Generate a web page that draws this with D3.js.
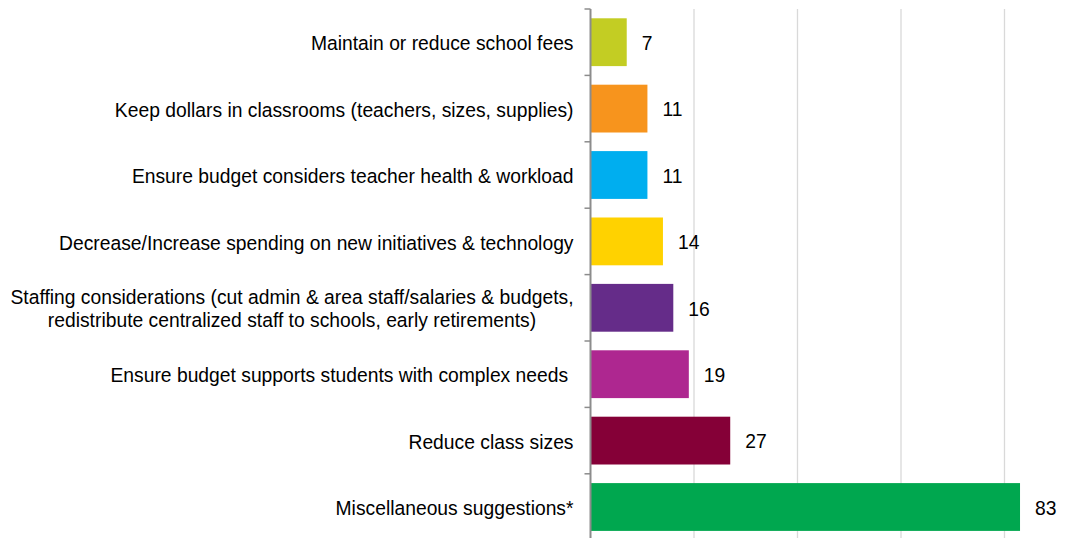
<!DOCTYPE html>
<html>
<head>
<meta charset="utf-8">
<script src="https://cdn.jsdelivr.net/npm/d3@7"></script>
<style>
  body { margin: 0; background: #fff; }
  svg { display: block; font-family: "Liberation Sans", Arial, sans-serif; }
</style>
</head>
<body>
<svg></svg>
<script>
const width = 1074;
const height = 538;

// data, top to bottom
const categories = [
    "Maintain or reduce school fees",
    "Keep dollars in classrooms (teachers, sizes, supplies)",
    "Ensure budget considers teacher health & workload",
    "Decrease/Increase spending on new initiatives & technology",
    "Staffing considerations (cut admin & area staff/salaries & budgets,|redistribute centralized staff to schools, early retirements)",
    "Ensure budget supports students with complex needs ",
    "Reduce class sizes",
    "Miscellaneous suggestions*"
];
const values = [7, 11, 11, 14, 16, 19, 27, 83];
const colors = ["#c3cd23", "#f7941d", "#00aeef", "#ffd200", "#652c89", "#ae2790", "#850037", "#00a74f"];
const gridTicks = [20, 40, 60, 80];

const x0 = 590.5;
const plotTop = 9;
const band = 66.4;

let svg = d3.select("svg").attr("width", width).attr("height", height);

let x = d3.scaleLinear().domain([0, 100]).range([x0, x0 + 517.5]);
let y = d3.scaleBand()
    .domain(categories)
    .range([plotTop, plotTop + band * categories.length])
    .paddingInner(0.28)
    .paddingOuter(0.14);

// gridlines
svg.append("g")
    .selectAll("line")
    .data(gridTicks)
    .join("line")
    .attr("x1", (d) => x(d))
    .attr("x2", (d) => x(d))
    .attr("y1", plotTop)
    .attr("y2", height)
    .style("stroke", "#d9d9d9")
    .style("stroke-width", 1.3);

// bars
svg.append("g")
    .selectAll("rect")
    .data(values)
    .join("rect")
    .attr("x", x(0) + 0.5)
    .attr("y", (d, i) => y(categories[i]))
    .attr("width", (d) => x(d) - x(0) - 0.5)
    .attr("height", y.bandwidth())
    .style("fill", (d, i) => colors[i]);

// value labels
svg.append("g")
    .selectAll("text")
    .data(values)
    .join("text")
    .attr("x", (d) => x(d) + 15)
    .attr("y", (d, i) => y(categories[i]) + y.bandwidth() / 2)
    .attr("dy", "0.4em")
    .style("font-size", "19.3px")
    .style("fill", "#000")
    .text((d) => d);

// y axis
let axis = svg.append("g")
    .attr("transform", `translate(${x0},0)`);
axis.append("line")
    .attr("x1", 0).attr("x2", 0)
    .attr("y1", plotTop).attr("y2", height)
    .style("stroke", "#8c8c8c")
    .style("stroke-width", 2);
// tick marks between categories
axis.append("g")
    .selectAll("line")
    .data(d3.range(categories.length + 1))
    .join("line")
    .attr("x1", -6).attr("x2", 0)
    .attr("y1", (d) => plotTop + d * band)
    .attr("y2", (d) => plotTop + d * band)
    .style("stroke", "#8c8c8c")
    .style("stroke-width", 1.5);

// category labels
let labels = svg.append("g")
    .selectAll("text")
    .data(categories)
    .join("text")
    .attr("text-anchor", "middle")
    .style("font-size", "19.3px")
    .style("white-space", "pre")
    .style("fill", "#000")
    .attr("transform", (d) => `translate(${x0 - 17}, ${y(d) + y.bandwidth() / 2})`);

labels.each(function (d) {
    const lines = d.split("|");
    const t = d3.select(this);
    lines.forEach((s, i) => {
        t.append("tspan")
            .attr("x", 0)
            .attr("dy", i === 0 ? `${0.42 - (lines.length - 1) * 0.6}em` : "1.2em")
            .text(s);
    });
});
// block is right-aligned, lines centred inside it
labels.each(function () {
    const w = this.getComputedTextLength ? d3.max(d3.select(this).selectAll("tspan").nodes(), (n) => n.getComputedTextLength()) : this.getBBox().width;
    d3.select(this).selectAll("tspan").attr("x", -w / 2);
});
</script>
</body>
</html>
